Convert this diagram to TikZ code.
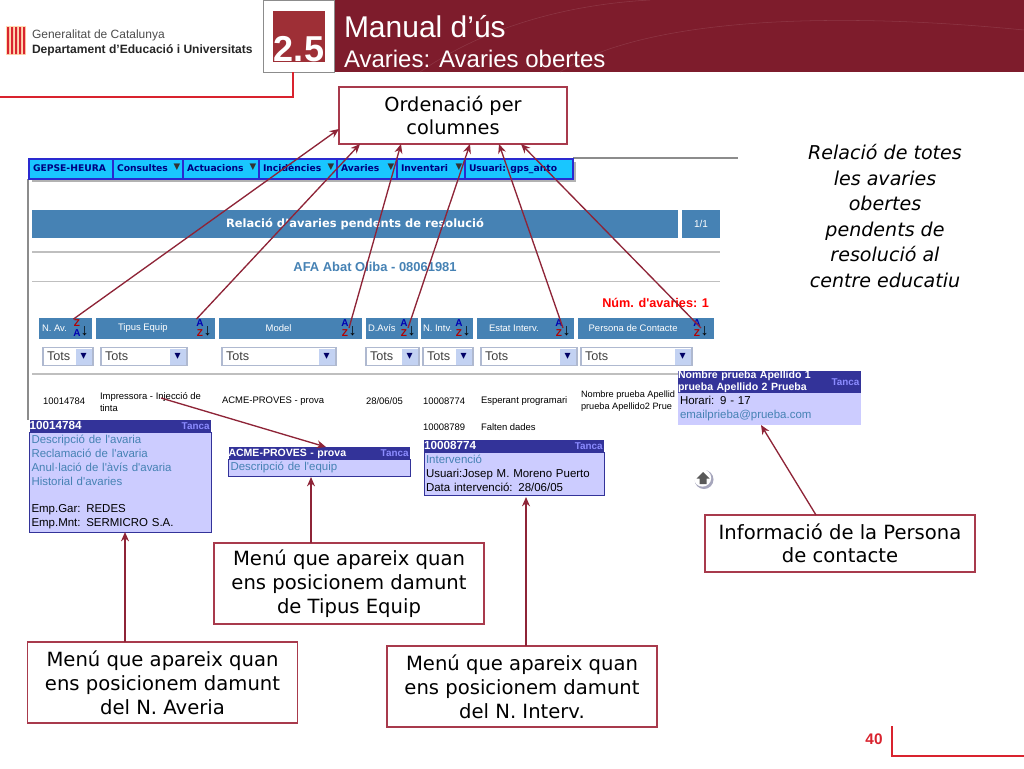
\documentclass[tikz,border=0pt]{standalone}
\usepackage{fontspec}
\setmainfont{DejaVu Sans}
\newfontfamily\arialfont{Liberation Sans}
\usetikzlibrary{positioning,arrows.meta}

\definecolor{bandred}{HTML}{7E1C2C}
\definecolor{squarered}{HTML}{9E2F36}
\definecolor{linered}{HTML}{D9232E}
\definecolor{arrowred}{HTML}{8E2437}
\definecolor{boxred}{HTML}{A83A4C}
\definecolor{steel}{HTML}{4682B4}
\definecolor{menucyan}{HTML}{19C6FF}
\definecolor{menublue}{HTML}{2A2AD0}
\definecolor{popfill}{HTML}{CCCCFF}
\definecolor{pophead}{HTML}{333399}
\definecolor{dropbtn}{HTML}{C3D2F2}

\newcommand{\sortaz}{\shortstack[c]{\color{blue!70!black}A\\\color{red!70!black}Z}\raisebox{1pt}{\color{black}\fontsize{12}{12}\selectfont↓}}
\newcommand{\sortza}{\shortstack[c]{\color{red!70!black}Z\\\color{blue!70!black}A}\raisebox{1pt}{\color{black}\fontsize{12}{12}\selectfont↓}}
\newcommand{\poplink}[1]{{\color{steel}#1}}

\begin{document}
\begin{tikzpicture}[
    x=0.75pt, y=-0.75pt,
    every node/.style={inner sep=0pt, outer sep=0pt},
    notebox/.style={draw=boxred, line width=0.8pt, fill=white, align=center, font=\fontsize{14.7}{18}\selectfont},
    arrowline/.style={draw=arrowred, line width=1pt, -{Stealth[length=7pt,width=6pt]}},
    menuitem/.style={draw=menublue, line width=0.8pt, fill=menucyan, minimum height=15pt, anchor=west},
    menutext/.style={font=\fontsize{6.9}{8}\selectfont\bfseries, text=blue!50!black, text height=5.5pt, text depth=1.5pt},
    menutri/.style={font=\fontsize{6.5}{7}\selectfont, text=black!80},
    colhead/.style={fill=steel, minimum height=15.75pt, anchor=west},
    coltext/.style={font=\arialfont\fontsize{7.1}{8}\selectfont, text=white},
    sorticon/.style={font=\arialfont\fontsize{7.5}{7.5}\selectfont\bfseries},
    dropbox/.style={draw=dropbtn!70!gray, thick, fill=white, minimum height=14pt, anchor=west},
    droptext/.style={font=\arialfont\fontsize{9.5}{11}\selectfont, text=black!75},
    dropbutton/.style={fill=dropbtn, minimum width=12pt, minimum height=12pt, font=\fontsize{9}{9}\selectfont, text=blue!40!black},
    rowtext/.style={font=\arialfont\fontsize{7.1}{9}\selectfont, align=left, anchor=west},
    popbody/.style={draw=pophead, fill=popfill, anchor=north west, align=left, inner xsep=1.5pt, inner ysep=2.6pt, font=\arialfont\fontsize{8.6}{10.3}\selectfont},
    popbar/.style={fill=pophead, anchor=north west, text=white, align=left, font=\arialfont\fontsize{7.9}{8.9}\selectfont\bfseries},
    popnum/.style={popbar, text height=6pt, text depth=1.5pt},
    tanca/.style={font=\arialfont\fontsize{7.4}{9}\selectfont\bfseries, text=blue!45!white},
    greyline/.style={draw=black!25, line width=1pt}
]
\useasboundingbox (0,0) rectangle (1024,768);

% cap de pagina
\fill[bandred] (334,0) rectangle (1024,72);
\draw[bandred!88!white] (560,72) .. controls (640,20) and (820,10) .. (1024,30);
\draw[bandred!88!white] (420,72) .. controls (480,30) and (560,5) .. (650,0);
\node[draw=black!45, fill=white, anchor=north west, minimum width=53.25pt, minimum height=54pt] (sectionbox) at (263,0) {};
\node[fill=squarered, minimum width=39pt, minimum height=38.25pt] (sectionsquare) at (sectionbox.center) {};
\node[text=white, font=\arialfont\fontsize{27}{27}\selectfont\bfseries] (sectionnum) at (299,49) {2.5};
\node[text=white, anchor=west, font=\arialfont\fontsize{22.5}{24}\selectfont] (title) at (344,27) {Manual d’ús};
\node[text=white, anchor=west, font=\arialfont\fontsize{18}{20}\selectfont] (subtitle) at (344,59) {Avaries: Avaries obertes};
\draw[linered, line width=1.5pt] (293,72) -- (293,97) -- (0,97);

% logo
\fill[orange!30!white] (6,26) rectangle (26,55);
\fill[linered] (7,27) rectangle (9,54) (11,27) rectangle (13,54) (15,27) rectangle (17,54) (19,27) rectangle (21,54) (23,27) rectangle (25,54);
\node[anchor=west, text=black!70, font=\arialfont\fontsize{9}{12}\selectfont] (logotop) at (32,35) {Generalitat de Catalunya};
\node[anchor=west, text=black!85, font=\arialfont\fontsize{9.05}{12}\selectfont\bfseries] (logobottom) at (32,50) {Departament d’Educació i Universitats};

% pantalla
\draw[black!45, line width=1pt] (28,179) -- (28,420);
\draw[black!45, line width=1pt] (573,158) -- (738,158);
\fill[black!30] (32,162) rectangle (576,182);
\node[menuitem, minimum width=63pt] (menuA) at (29,169) {};
\node[menuitem, minimum width=52.5pt] (menuB) at (113,169) {};
\node[menuitem, minimum width=57pt] (menuC) at (183,169) {};
\node[menuitem, minimum width=58.5pt] (menuD) at (259,169) {};
\node[menuitem, minimum width=45pt] (menuE) at (337,169) {};
\node[menuitem, minimum width=51pt] (menuF) at (397,169) {};
\node[menuitem, minimum width=81pt] (menuG) at (465,169) {};
\node[menutext, right=3pt of menuA.west] {GEPSE-HEURA};
\node[menutext, right=3pt of menuB.west] {Consultes};
\node[menutext, right=3pt of menuC.west] {Actuacions};
\node[menutext, right=3pt of menuD.west] {Incidències};
\node[menutext, right=3pt of menuE.west] {Avaries};
\node[menutext, right=3pt of menuF.west] {Inventari};
\node[menutext, right=3pt of menuG.west] {Usuari: gps\_anto};
\node[menutri, left=2pt of menuB.east, yshift=1.5pt] {▼};
\node[menutri, left=2pt of menuC.east, yshift=1.5pt] {▼};
\node[menutri, left=2pt of menuD.east, yshift=1.5pt] {▼};
\node[menutri, left=2pt of menuE.east, yshift=1.5pt] {▼};
\node[menutri, left=2pt of menuF.east, yshift=1.5pt] {▼};

\node[fill=steel, anchor=west, minimum width=484.5pt, minimum height=21pt, text=white, font=\fontsize{8.6}{10}\selectfont\bfseries] (reltitle) at (32,224) {};
\node[text=white, font=\fontsize{8.6}{10}\selectfont\bfseries] (reltext) at (355,224) {Relació d'avaries pendents de resolució};
\node[fill=steel, minimum width=28.5pt, minimum height=21pt, text=white, right=3pt of reltitle, font=\arialfont\fontsize{7.5}{9}\selectfont] (pagebox) {1/1};
\draw[greyline] (32,252) -- (720,252);
\draw[greyline] (32,281.5) -- (720,281.5);
\node[text=steel, font=\arialfont\fontsize{9.7}{11}\selectfont\bfseries] (centre) at (375,267) {AFA Abat Oliba - 08061981};
\node[text=red, anchor=east, font=\arialfont\fontsize{9.5}{11}\selectfont\bfseries] (numav) at (709,303) {Núm. d'avaries: 1};

% capcaleres de columna
\node[colhead, minimum width=39.75pt] (colA) at (39,328.5) {};
\node[colhead, minimum width=89.25pt] (colB) at (96,328.5) {};
\node[colhead, minimum width=107.25pt] (colC) at (219,328.5) {};
\node[colhead, minimum width=39pt] (colD) at (366,328.5) {};
\node[colhead, minimum width=39pt] (colE) at (421,328.5) {};
\node[colhead, minimum width=72.75pt] (colF) at (477,328.5) {};
\node[colhead, minimum width=102pt] (colG) at (578,328.5) {};
\node[coltext, right=2.25pt of colA.west] {N. Av.};
\node[coltext, right=16.5pt of colB.west] {Tipus Equip};
\node[coltext, right=35pt of colC.west] {Model};
\node[coltext, right=1.5pt of colD.west] {D.Avís};
\node[coltext, right=1.5pt of colE.west] {N. Intv.};
\node[coltext, right=9pt of colF.west] {Estat Interv.};
\node[coltext, right=8pt of colG.west] {Persona de Contacte};

\node[sorticon] (sortA) at (81,328) {\sortza};
\node[sorticon] (sortB) at (204,328) {\sortaz};
\node[sorticon] (sortC) at (349,328) {\sortaz};
\node[sorticon] (sortD) at (408,328) {\sortaz};
\node[sorticon] (sortE) at (463,328) {\sortaz};
\node[sorticon] (sortF) at (563,328) {\sortaz};
\node[sorticon] (sortG) at (701,328) {\sortaz};

% desplegables
\node[dropbox, minimum width=37.5pt] (dropA) at (43,356.5) {};
\node[dropbox, minimum width=64.5pt] (dropB) at (101,356.5) {};
\node[dropbox, minimum width=85.5pt] (dropC) at (222,356.5) {};
\node[dropbox, minimum width=39.75pt] (dropD) at (366,356.5) {};
\node[dropbox, minimum width=37.5pt] (dropE) at (423,356.5) {};
\node[dropbox, minimum width=72pt] (dropF) at (481,356.5) {};
\node[dropbox, minimum width=83.25pt] (dropG) at (581,356.5) {};
\node[droptext, right=3pt of dropA.west] {Tots};
\node[droptext, right=3pt of dropB.west] {Tots};
\node[droptext, right=3pt of dropC.west] {Tots};
\node[droptext, right=3pt of dropD.west] {Tots};
\node[droptext, right=3pt of dropE.west] {Tots};
\node[droptext, right=3pt of dropF.west] {Tots};
\node[droptext, right=3pt of dropG.west] {Tots};
\node[dropbutton, left=1pt of dropA.east] {▾};
\node[dropbutton, left=1pt of dropB.east] {▾};
\node[dropbutton, left=1pt of dropC.east] {▾};
\node[dropbutton, left=1pt of dropD.east] {▾};
\node[dropbutton, left=1pt of dropE.east] {▾};
\node[dropbutton, left=1pt of dropF.east] {▾};
\node[dropbutton, left=1pt of dropG.east] {▾};
\draw[greyline] (32,374) -- (720,374);

% files
\node[rowtext] (rowA) at (43,401) {10014784};
\node[rowtext] (rowB) at (100,402) {Impressora - Injecció de\\tinta};
\node[rowtext] (rowC) at (222,401) {ACME-PROVES - prova};
\node[rowtext] (rowD) at (366,401) {28/06/05};
\node[rowtext] (rowE) at (423,401) {10008774};
\node[rowtext] (rowF) at (481,401) {Esperant programari};
\node[rowtext, font=\arialfont\fontsize{6.9}{9}\selectfont] (rowG) at (581,401) {Nombre prueba Apellid\\prueba Apellido2 Prue};
\node[rowtext] (rowH) at (423,427) {10008789};
\node[rowtext] (rowI) at (481,427) {Falten dades};

% menus emergents
\node[popnum, text width=136pt, minimum height=9pt, font=\arialfont\fontsize{8.8}{8.9}\selectfont\bfseries] (barA) at (29.5,420) {10014784};
\node[tanca, left=1pt of barA.east] {Tanca};
\node[popbody, text width=133pt, below=0pt of barA.south west, anchor=north west] (popA) {\poplink{Descripció de l'avaria}\\\poplink{Reclamació de l'avaria}\\\poplink{Anul·lació de l'àvís d'avaria}\\\poplink{Historial d'avaries}\\[10.3pt]Emp.Gar: REDES\\Emp.Mnt: SERMICRO S.A.};

\node[popnum, text width=136pt, minimum height=9pt] (barB) at (228.5,447) {ACME-PROVES - prova};
\node[tanca, left=1pt of barB.east] {Tanca};
\node[popbody, text width=133pt, below=0pt of barB.south west, anchor=north west] (popB) {\poplink{Descripció de l'equip}};

\node[popnum, text width=135pt, minimum height=9pt, font=\arialfont\fontsize{8.8}{8.9}\selectfont\bfseries] (barC) at (424,440) {10008774};
\node[tanca, left=1pt of barC.east] {Tanca};
\node[popbody, text width=132pt, below=0pt of barC.south west, anchor=north west] (popC) {\poplink{Intervenció}\\Usuari:Josep M. Moreno Puerto\\Data intervenció: 28/06/05};

\node[popbar, text width=137pt, minimum height=16.5pt] (barD) at (678,371) {Nombre prueba Apellido 1\\prueba Apellido 2 Prueba};
\node[tanca, left=1pt of barD.east] {Tanca};
\node[popbody, draw=popfill, text width=134pt, below=0pt of barD.south west, anchor=north west] (popD) {Horari: 9 - 17\\\poplink{emailprieba@prueba.com}};

% boto amunt
\fill[blue!25!black!35] (704,479.5) circle (9.5);
\node[circle, fill=white, minimum size=13pt] (upbutton) at (702.5,478) {};
\fill[black!65] (703,472) -- (709.5,478.5) -- (706.5,478.5) -- (706.5,484) -- (699.5,484) -- (699.5,478.5) -- (696.5,478.5) -- cycle;

% quadres explicatius
\node[notebox, minimum width=171pt, minimum height=42.75pt, font=\fontsize{14.5}{17.25}\selectfont] (ordenacio) at (453,115.5) {Ordenació per\\columnes};
\node[notebox, minimum width=202.5pt, minimum height=42.75pt, font=\fontsize{14.7}{17.25}\selectfont] (infopersona) at (840,543.5) {Informació de la Persona\\de contacte};
\node[notebox, minimum width=202.5pt, minimum height=60.75pt] (menuequip) at (349,583.5) {Menú que apareix quan\\ens posicionem damunt\\de Tipus Equip};
\node[notebox, minimum width=202.5pt, minimum height=60.75pt] (menuaveria) at (162.5,682.5) {Menú que apareix quan\\ens posicionem damunt\\del N. Averia};
\node[notebox, minimum width=202.5pt, minimum height=60.75pt] (menuinterv) at (522,686.5) {Menú que apareix quan\\ens posicionem damunt\\del N. Interv.};
\node[align=center, font=\itshape\fontsize{14.3}{19.2}\selectfont] (relacio) at (885,216) {Relació de totes\\les avaries\\obertes\\pendents de\\resolució al\\centre educatiu};

% punts d'arribada
\coordinate (tipA) at (339,129);
\coordinate (tipB) at (360,144);
\coordinate (tipC) at (401,144);
\coordinate (tipD) at (470,144);
\coordinate (tipE) at (499,144);
\coordinate (tipF) at (521,144);
\coordinate (startEquip) at (161,398);
\coordinate (tipEquip) at (326,447);
\coordinate (tipMenuB) at (311,477);
\coordinate (tipMenuA) at (125,532);
\coordinate (tipMenuC) at (526,497);
\coordinate (tipInfo) at (761,425);
\coordinate (startInfo) at (816,515);

% connexions
\draw[arrowline] (sortA.north west) -- (tipA);
\draw[arrowline] (sortB.north west) -- (tipB);
\draw[arrowline] (sortC.center) -- (tipC);
\draw[arrowline] (sortD.center) -- (tipD);
\draw[arrowline] (sortF.center) -- (tipE);
\draw[arrowline] (sortG.center) -- (tipF);
\draw[arrowline] (startEquip) -- (tipEquip);
\draw[arrowline] (menuequip.north -| tipMenuB) -- (tipMenuB);
\draw[arrowline] (menuaveria.north -| tipMenuA) -- (tipMenuA);
\draw[arrowline] (menuinterv.north -| tipMenuC) -- (tipMenuC);
\draw[arrowline] (startInfo) -- (tipInfo);

% peu de pagina
\node[text=linered, font=\arialfont\fontsize{11.5}{12}\selectfont\bfseries] (pagenum) at (874,739) {40};
\draw[linered, line width=1.5pt] (892,726) -- (892,756) -- (1024,756);

\end{tikzpicture}
\end{document}
